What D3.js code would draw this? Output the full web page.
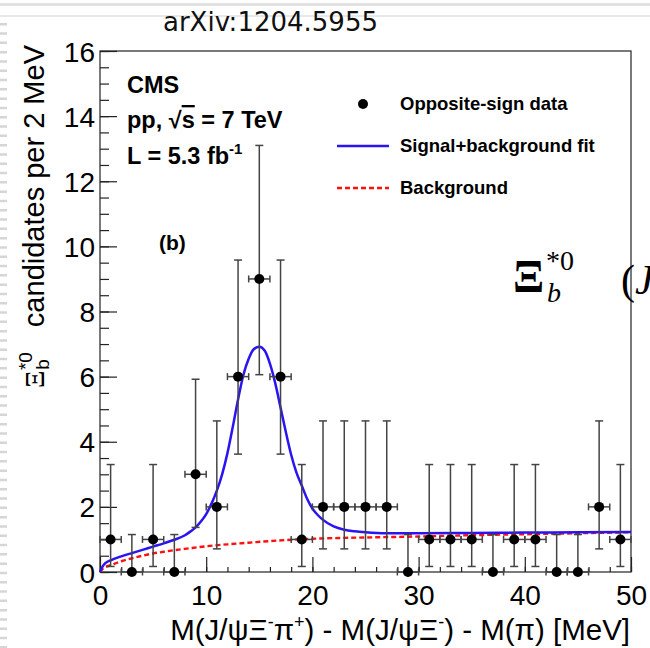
<!DOCTYPE html>
<html>
<head>
<meta charset="utf-8">
<script src="https://cdn.jsdelivr.net/npm/d3@7"></script>
<style>
  html, body { margin: 0; padding: 0; background: #fff; }
  svg { display: block; }
</style>
</head>
<body>
<svg id="chart" width="650" height="648"></svg>
<script>
// ---- data: Xi_b*0 candidates per 2 MeV bin ----
const binCentres = [1, 3, 5, 7, 9, 11, 13, 15, 17, 19, 21, 23, 25, 27, 29, 31, 33, 35, 37, 39, 41, 43, 45, 47, 49];
const counts     = [1, 0, 1, 0, 3, 2, 6, 9, 6, 1, 2, 2, 2, 2, 0, 1, 1, 1, 0, 1, 1, 0, 0, 2, 1];
// asymmetric Poisson error bars (down / up)
const errDown    = [0.83, 0, 0.83, 0, 1.63, 1.29, 2.38, 2.94, 2.38, 0.83, 1.29, 1.29, 1.29, 1.29, 0, 0.83, 0.83, 0.83, 0, 0.83, 0.83, 0, 0, 1.29, 0.83];
const errUp      = [2.30, 1.15, 2.30, 1.15, 2.92, 2.64, 3.58, 4.10, 3.58, 2.30, 2.64, 2.64, 2.64, 2.64, 1.15, 2.30, 2.30, 2.30, 1.15, 2.30, 2.30, 1.15, 1.15, 2.64, 2.30];
const binHalfWidth = 1;

// signal + background fit
const fitX = [0, 0.25, 0.5, 1, 2, 3, 4, 5, 6, 7, 8, 8.5, 9, 9.5, 10, 10.5, 11, 11.5, 12, 12.5, 13, 13.5, 14, 14.5, 15, 15.5, 16, 16.5, 17, 17.5, 18, 18.5, 19, 19.5, 20, 20.5, 21, 22, 23, 24, 25, 27, 30, 35, 40, 45, 50];
const fitY = [0, 0.17, 0.27, 0.36, 0.48, 0.58, 0.68, 0.78, 0.88, 0.99, 1.13, 1.24, 1.37, 1.55, 1.78, 2.1, 2.5, 3.0, 3.65, 4.45, 5.3, 6.05, 6.55, 6.85, 6.92, 6.8, 6.4, 5.8, 5.05, 4.3, 3.6, 3.05, 2.65, 2.25, 1.95, 1.75, 1.6, 1.4, 1.3, 1.25, 1.22, 1.19, 1.19, 1.2, 1.21, 1.22, 1.23];

// background component
const bkgX = [0, 0.25, 0.5, 1, 2, 3, 4, 5, 6, 7, 8, 10, 12, 14, 16, 18, 20, 22, 25, 30, 35, 40, 45, 50];
const bkgY = [0, 0.1, 0.15, 0.21, 0.33, 0.42, 0.5, 0.57, 0.62, 0.67, 0.71, 0.79, 0.85, 0.9, 0.95, 0.99, 1.02, 1.04, 1.06, 1.09, 1.13, 1.16, 1.19, 1.22];

// axis ticks
const xMajorTicks = [0, 10, 20, 30, 40, 50];
const xMinorTicks = d3.range(0, 50.01, 2);
const yMajorTicks = [0, 2, 4, 6, 8, 10, 12, 14, 16];
const yMinorTicks = d3.range(0, 16.01, 0.5);

const legendLabels = ["Opposite-sign data", "Signal+background fit", "Background"];

// ---- drawing ----
const svg = d3.select("#chart");
const SANS = '"Liberation Sans", Arial, Helvetica, sans-serif';
const SERIF = '"Liberation Serif", "Times New Roman", serif';

// viewer chrome around the page
svg.append("rect").attr("x", 0).attr("y", 3).attr("width", 650).attr("height", 3).attr("fill", "#e2e2e2");
svg.append("rect").attr("x", 0).attr("y", 15).attr("width", 650).attr("height", 2).attr("fill", "#e8e8e8");
svg.append("line").attr("x1", 3.5).attr("x2", 3.5).attr("y1", 23).attr("y2", 648)
  .attr("stroke", "#d6d6d6").attr("stroke-width", 7).attr("stroke-dasharray", "2.5 6.8");

svg.append("text").attr("x", 163).attr("y", 31)
  .attr("font-family", '"DejaVu Sans", Verdana, sans-serif').attr("font-size", 26)
  .attr("fill", "#111").text("arXiv:1204.5955");

const x = d3.scaleLinear().domain([0, 50]).range([100, 631]);
const y = d3.scaleLinear().domain([0, 16]).range([572, 51]);

const axisColor = "#222";

// frame
svg.append("rect").attr("x", x(0)).attr("y", y(16))
  .attr("width", x(50) - x(0)).attr("height", y(0) - y(16))
  .attr("fill", "none").attr("stroke", axisColor).attr("stroke-width", 1.2);

// y axis: minor then major ticks, pointing into the frame
const yMinor = svg.append("g").attr("transform", `translate(${x(0)},0)`)
  .call(d3.axisLeft(y).tickValues(yMinorTicks).tickSizeInner(-9).tickSizeOuter(0).tickFormat(""));
const yMajor = svg.append("g").attr("transform", `translate(${x(0)},0)`)
  .call(d3.axisLeft(y).tickValues(yMajorTicks).tickSizeInner(-17).tickSizeOuter(0).tickPadding(5).tickFormat(d3.format("d")));
[yMinor, yMajor].forEach(g => {
  g.select(".domain").remove();
  g.selectAll("line").attr("stroke", axisColor).attr("stroke-width", 1.2);
});
yMajor.selectAll("text").attr("font-family", SANS).attr("font-size", 28).attr("fill", "#000").attr("dy", "0.36em");

// x axis
const xMinor = svg.append("g").attr("transform", `translate(0,${y(0)})`)
  .call(d3.axisBottom(x).tickValues(xMinorTicks).tickSizeInner(-5).tickSizeOuter(0).tickFormat(""));
const xMajor = svg.append("g").attr("transform", `translate(0,${y(0)})`)
  .call(d3.axisBottom(x).tickValues(xMajorTicks).tickSizeInner(-15).tickSizeOuter(0).tickPadding(13).tickFormat(d3.format("d")));
[xMinor, xMajor].forEach(g => {
  g.select(".domain").remove();
  g.selectAll("line").attr("stroke", axisColor).attr("stroke-width", 1.2);
});
xMajor.selectAll("text").attr("font-family", SANS).attr("font-size", 28).attr("fill", "#000");

// helper: a run of tspans with their own size / shift
function addPieces(t, pieces) {
  pieces.forEach(p => {
    const s = t.append("tspan").text(p.t);
    if (p.dy) s.attr("dy", p.dy);
    if (p.dx) s.attr("dx", p.dx);
    if (p.size) s.attr("font-size", p.size);
    if (p.family) s.attr("font-family", p.family);
    if (p.style) s.attr("font-style", p.style);
  });
}

// axis titles
const xTitle = svg.append("text").attr("x", 630).attr("y", 640)
  .attr("text-anchor", "end").attr("font-family", SANS).attr("font-size", 29.5).attr("fill", "#000");
addPieces(xTitle, [
  { t: "M(J/ψΞ" },
  { t: "-", size: 18, dy: -12 },
  { t: "π", dy: 12 },
  { t: "+", size: 18, dy: -12 },
  { t: ") - M(J/ψΞ", dy: 12 },
  { t: "-", size: 18, dy: -12 },
  { t: ") - M(π) [MeV]", dy: 12 }
]);

const yTitle = svg.append("g").attr("transform", "translate(44,388) rotate(-90)");
const yt = yTitle.append("text").attr("x", 0).attr("y", 0).attr("font-family", SANS).attr("font-size", 28).attr("fill", "#000");
addPieces(yt, [
  { t: "Ξ", family: SERIF, size: 27 },
  { t: "b", size: 19, dy: 5, dx: 1 },
  { t: "*0", size: 19, dy: -17, dx: -11 }
]);
yTitle.append("text").attr("x", 343).attr("y", 0).attr("text-anchor", "end")
  .attr("font-family", SANS).attr("font-size", 29).attr("fill", "#000")
  .text("candidates per 2 MeV");

// fit curves
const lineGen = d3.line().x(d => x(d[0])).y(d => y(d[1])).curve(d3.curveMonotoneX);
svg.append("path").datum(d3.zip(bkgX, bkgY)).attr("d", lineGen)
  .attr("fill", "none").attr("stroke", "#ff1010").attr("stroke-width", 2.4).attr("stroke-dasharray", "5 3");
svg.append("path").datum(d3.zip(fitX, fitY)).attr("d", lineGen)
  .attr("fill", "none").attr("stroke", "#2a14f2").attr("stroke-width", 2.5);

// data points with error bars
const pts = binCentres.map((c, i) => ({ c, n: counts[i], lo: counts[i] - errDown[i], hi: counts[i] + errUp[i] }));
const eb = svg.append("g").attr("stroke", "#444").attr("stroke-width", 1.5).attr("fill", "none");
pts.forEach(p => {
  const cx = x(p.c), cy = y(p.n);
  eb.append("line").attr("x1", cx).attr("x2", cx).attr("y1", y(p.lo)).attr("y2", y(p.hi));
  eb.append("line").attr("x1", cx - 4).attr("x2", cx + 4).attr("y1", y(p.hi)).attr("y2", y(p.hi));
  if (p.lo > 0) eb.append("line").attr("x1", cx - 4).attr("x2", cx + 4).attr("y1", y(p.lo)).attr("y2", y(p.lo));
  const xl = x(p.c - binHalfWidth), xr = x(p.c + binHalfWidth);
  eb.append("line").attr("x1", xl).attr("x2", xr).attr("y1", cy).attr("y2", cy);
  eb.append("line").attr("x1", xl).attr("x2", xl).attr("y1", cy - 3.5).attr("y2", cy + 3.5);
  eb.append("line").attr("x1", xr).attr("x2", xr).attr("y1", cy - 3.5).attr("y2", cy + 3.5);
});
svg.append("g").selectAll("circle").data(pts).join("circle")
  .attr("cx", d => x(d.c)).attr("cy", d => y(d.n)).attr("r", 5).attr("fill", "#000");

// CMS label block
const cms = svg.append("g").attr("font-family", SANS).attr("font-weight", "bold").attr("font-size", 23.5).attr("fill", "#000");
cms.append("text").attr("x", 127).attr("y", 93).text("CMS");
const ppText = cms.append("text").attr("x", 127).attr("y", 128);
ppText.append("tspan").text("pp,  √");
ppText.append("tspan").style("text-decoration", "overline").text("s");
ppText.append("tspan").text(" = 7 TeV");
const lumi = cms.append("text").attr("x", 127).attr("y", 164);
addPieces(lumi, [{ t: "L = 5.3 fb" }, { t: "-1", size: 15, dy: -10 }]);
cms.append("text").attr("x", 159).attr("y", 250).attr("font-size", 21).text("(b)");

// legend
const leg = svg.append("g").attr("font-family", SANS).attr("font-weight", "bold").attr("font-size", 18.5).attr("fill", "#000");
leg.append("circle").attr("cx", 363).attr("cy", 104).attr("r", 5).attr("fill", "#000");
leg.append("line").attr("x1", 337).attr("x2", 389).attr("y1", 146).attr("y2", 146)
  .attr("stroke", "#2a14f2").attr("stroke-width", 2.5);
leg.append("line").attr("x1", 337).attr("x2", 389).attr("y1", 188).attr("y2", 188)
  .attr("stroke", "#ff1010").attr("stroke-width", 2.4).attr("stroke-dasharray", "5 3");
[110, 152, 194].forEach((by, i) => leg.append("text").attr("x", 400).attr("y", by).text(legendLabels[i]));

// large particle symbol from the surrounding text
const big = svg.append("g").attr("font-family", SERIF).attr("fill", "#000");
big.append("text").attr("x", 513).attr("y", 292).attr("font-size", 46).attr("font-weight", "bold").text("Ξ");
big.append("text").attr("x", 546).attr("y", 270).attr("font-size", 28).text("*0");
big.append("text").attr("x", 547).attr("y", 302).attr("font-size", 28).attr("font-style", "italic").text("b");
const paren = big.append("text").attr("x", 621).attr("y", 294).attr("font-size", 42);
paren.append("tspan").text("(");
paren.append("tspan").attr("font-style", "italic").text("J");
</script>
</body>
</html>
